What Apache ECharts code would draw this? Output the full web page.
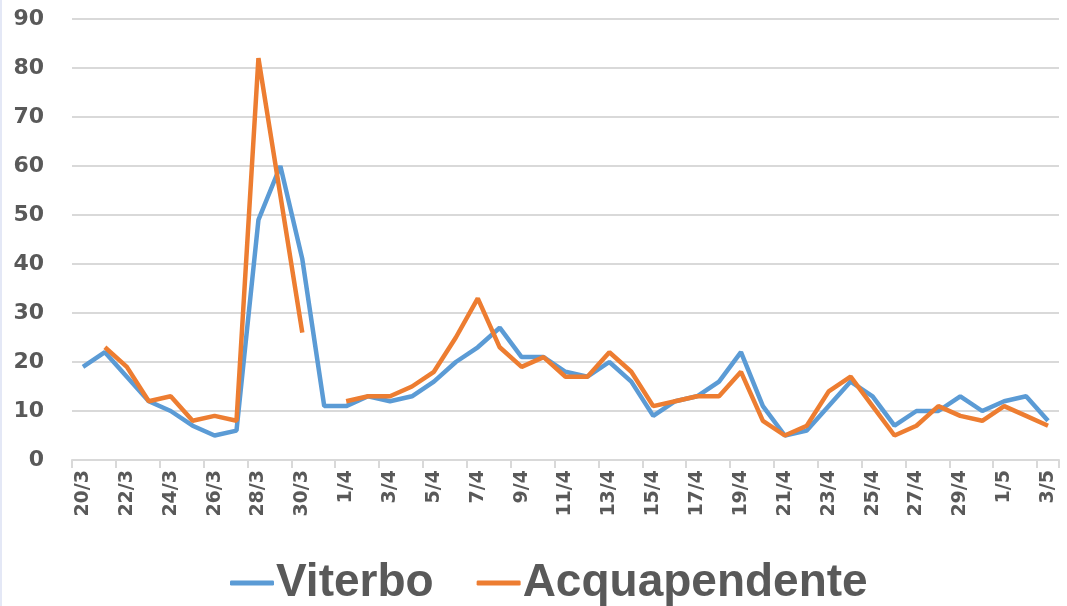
<!DOCTYPE html>
<html><head><meta charset="utf-8">
<script src="https://cdn.jsdelivr.net/npm/echarts@6/dist/echarts.min.js"></script>
<style>html,body{margin:0;padding:0;background:#fff}#c{width:1067px;height:606px}</style>
</head><body><div id="c"></div>
<script>
const categories = ['20/3','21/3','22/3','23/3','24/3','25/3','26/3','27/3','28/3','29/3','30/3','31/3',
'1/4','2/4','3/4','4/4','5/4','6/4','7/4','8/4','9/4','10/4','11/4','12/4','13/4','14/4','15/4','16/4','17/4','18/4','19/4','20/4','21/4','22/4','23/4','24/4','25/4','26/4','27/4','28/4','29/4','30/4',
'1/5','2/5','3/5'];
const viterbo = [19,22,17,12,10,7,5,6,49,60,41,11,
11,13,12,13,16,20,23,27,21,21,18,17,20,16,9,12,13,16,22,11,5,6,11,16,13,7,10,10,13,10,
12,13,8];
const acquapendente = [null,23,19,12,13,8,9,8,82,54,26,null,
12,13,13,15,18,25,33,23,19,21,17,17,22,18,11,12,13,13,18,8,5,7,14,17,11,5,7,11,9,8,
11,9,7];
const yTicks = {min:0, max:90, interval:10};

const chart = echarts.init(document.getElementById('c'));
const txt = '#595959';
chart.setOption({
  animation:false,
  grid:{left:72, right:8, top:19, bottom:146, containLabel:false, outerBoundsMode:'none'},
  graphic:[{type:'rect', shape:{x:0, y:0, width:2, height:606}, style:{fill:'#e4e8f6'}, silent:true}],
  legend:{
    top:555, left:225, itemWidth:44, itemHeight:5, itemGap:43,
    icon:'roundRect',
    textStyle:{fontSize:46, fontWeight:'bold', color:txt, fontFamily:'Liberation Sans, Arial, sans-serif', padding:[0,0,0,-3]},
    data:['Viterbo','Acquapendente']
  },
  xAxis:{
    type:'category', data:categories, boundaryGap:true,
    axisLine:{lineStyle:{color:'#d9d9d9', width:2}},
    axisTick:{show:true, interval:1, alignWithLabel:false, length:8, lineStyle:{color:'#d9d9d9', width:2}},
    axisLabel:{interval:1, rotate:90, fontSize:19, fontWeight:'bold', color:txt, fontFamily:'DejaVu Sans, sans-serif', margin:10}
  },
  yAxis:{
    type:'value', min:yTicks.min, max:yTicks.max, interval:yTicks.interval,
    axisLine:{show:false}, axisTick:{show:false},
    splitLine:{lineStyle:{color:'#d9d9d9', width:2}},
    axisLabel:{fontSize:22, fontWeight:'bold', color:txt, fontFamily:'DejaVu Sans, sans-serif', margin:28}
  },
  series:[
    {name:'Viterbo', type:'line', data:viterbo, showSymbol:false, symbol:'none', lineStyle:{color:'#5B9BD5', width:4.5}, itemStyle:{color:'#5B9BD5'}},
    {name:'Acquapendente', type:'line', data:acquapendente, showSymbol:false, symbol:'none', connectNulls:false, lineStyle:{color:'#ED7D31', width:4.5}, itemStyle:{color:'#ED7D31'}}
  ]
});
</script></body></html>
